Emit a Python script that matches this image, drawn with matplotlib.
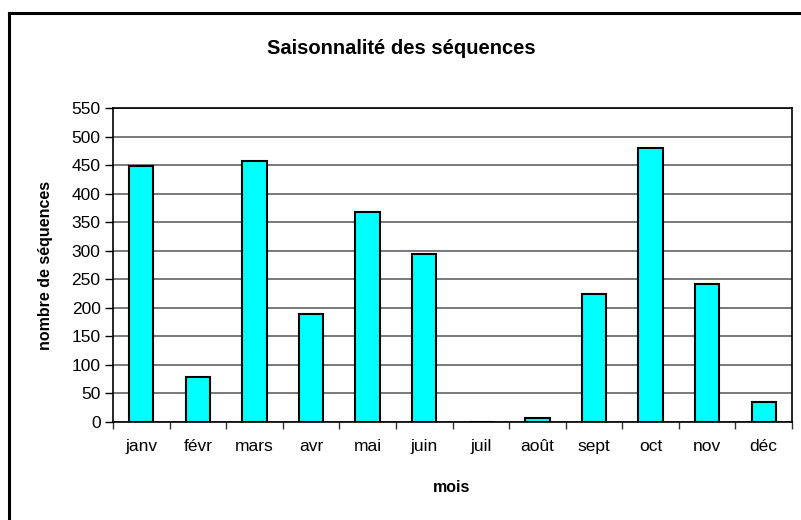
import matplotlib.pyplot as plt
import numpy as np
from matplotlib.lines import Line2D

plt.rcParams['font.family'] = ['Liberation Sans', 'DejaVu Sans']

mois = ['janv', 'févr', 'mars', 'avr', 'mai', 'juin', 'juil', 'août', 'sept', 'oct', 'nov', 'déc']
sequences = [448, 79, 458, 190, 367, 294, 0, 7, 225, 480, 241, 35]
yticks = list(range(0, 551, 50))

W, H = 801, 520
fig = plt.figure(figsize=(W / 100, H / 100), dpi=100)

# zone du graphique (pixels -> fraction)
left, top, right, bottom = 113, 108, 792, 422
ax = fig.add_axes([left / W, 1 - bottom / H, (right - left) / W, (bottom - top) / H])

x = np.arange(len(mois))
ax.bar(x, sequences, width=0.43, color='#00FFFF', edgecolor='black', linewidth=1.5, zorder=3)

ax.set_xlim(-0.5, len(mois) - 0.5)
ax.set_ylim(0, 550)
ax.set_yticks(yticks)
ax.yaxis.grid(True, color='#555555', linewidth=1.1, zorder=0)

# graduations entre les catégories
ax.set_xticks(np.arange(-0.5, len(mois), 1))
ax.set_xticklabels([])
ax.set_xticks(x, minor=True)
ax.set_xticklabels(mois, minor=True, fontsize=12.5)
ax.tick_params(axis='x', which='minor', length=0, pad=12)
ax.tick_params(axis='x', which='major', length=5, width=1, color='#333333')
ax.tick_params(axis='y', length=6, width=1, labelsize=12.5, pad=3)

for s in ax.spines.values():
    s.set_linewidth(1.2)
    s.set_color('black')

ax.set_xlabel('mois', fontsize=11.5, fontweight='bold', va='center')
ax.set_ylabel('nombre de séquences', fontsize=11.5, fontweight='bold', va='center')
ax.xaxis.set_label_coords(339 / (right - left), (bottom - 488) / (bottom - top))
ax.yaxis.set_label_coords((45 - left) / (right - left), 0.5)

fig.text(401 / W, 1 - 48 / H, 'Saisonnalité des séquences', ha='center', va='center',
         fontsize=14.5, fontweight='bold')

# cadre du graphique (seuls les bords haut et gauche sont visibles)
fig.add_artist(Line2D([8.5 / W, 8.5 / W], [0, 1 - 13 / H], color='black', linewidth=2.2,
                      transform=fig.transFigure))
fig.add_artist(Line2D([8.5 / W, 1], [1 - 13 / H, 1 - 13 / H], color='black', linewidth=2.2,
                      transform=fig.transFigure))

fig.savefig('out.png', dpi=100)
